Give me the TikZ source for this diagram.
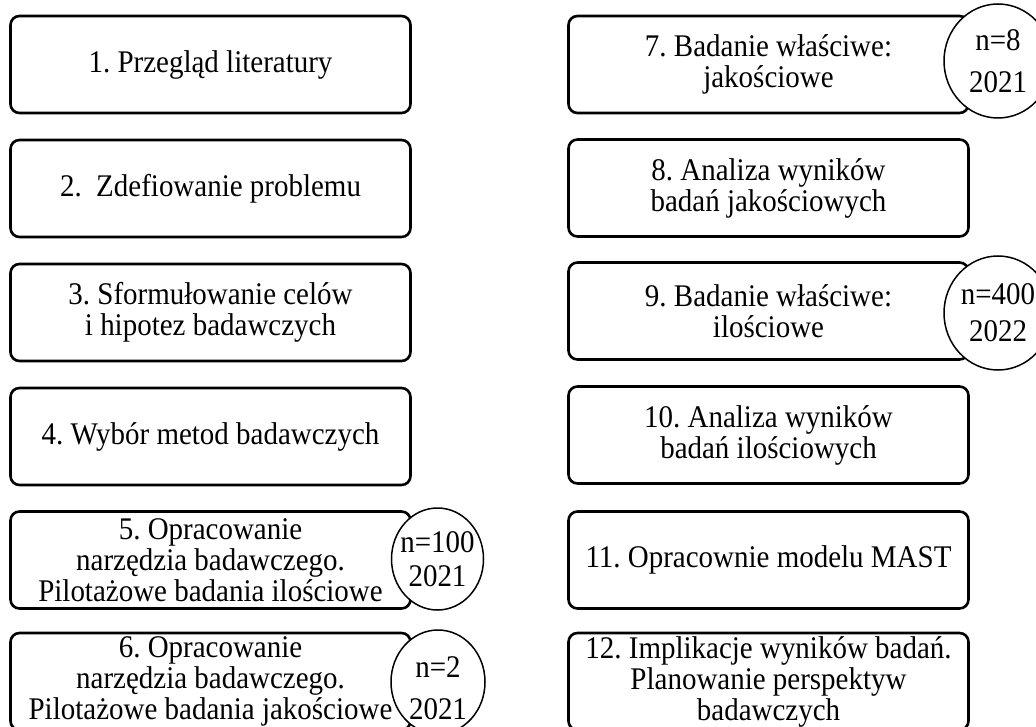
\documentclass[tikz,border=0pt]{standalone}
\usepackage{fontspec}
\setmainfont{Liberation Serif}[FakeStretch=0.92]
\usetikzlibrary{shapes.geometric}
\begin{document}
\frenchspacing
\begin{tikzpicture}[x=1pt,y=-1pt,
  stage/.style={draw, line width=2.6pt, rounded corners=9pt, minimum width=400pt,
    minimum height=97pt, align=center, inner sep=0pt, fill=white,
    font=\fontsize{31.5}{31}\selectfont},
  badge/.style={draw, line width=1.5pt, fill=white, ellipse, inner sep=0pt},
  badgetext/.style={align=center, inner sep=0pt, font=\fontsize{31.5}{#1}\selectfont},
  badgetext/.default=36]
\useasboundingbox (0,0) rectangle (1036,727);
\fill[white] (0,0) rectangle (1036,727);
% left column
\node[stage] (s1) at (210.5,64.5) {1. Przegląd literatury};
\node[stage] (s2) at (210.5,188.5) {2.\ \ Zdefiowanie problemu};
\node[stage] (s3) at (210.5,312.5) {3. Sformułowanie celów\\i hipotez badawczych};
\node[stage] (s4) at (210.5,436.5) {4. Wybór metod badawczych};
\node[stage] (s5) at (210.5,560) {5. Opracowanie\\narzędzia badawczego.\\Pilotażowe badania ilościowe};
\node[stage] (s6) at (210.5,681.5) {6. Opracowanie\\narzędzia badawczego.\\Pilotażowe badania jakościowe};
% right column
\node[stage] (s7) at (768.5,64.5) {7. Badanie właściwe:\\jakościowe};
\node[stage] (s8) at (768.5,188) {8. Analiza wyników\\badań jakościowych};
\node[stage] (s9) at (768.5,311) {9. Badanie właściwe:\\ilościowe};
\node[stage] (s10) at (768.5,435) {10. Analiza wyników\\badań ilościowych};
\node[stage] (s11) at (768.5,560) {11. Opracownie modelu MAST};
\node[stage] (s12) at (768.5,681.5) {12. Implikacje wyników badań.\\Planowanie perspektyw\\badawczych};
% badges
\node[badge, minimum width=92pt, minimum height=102pt] (c5) at (437.5,559) {};
\node[badgetext=34] (t5) at (c5) {n=100\\2021};
\node[badge, minimum width=94pt, minimum height=104pt] (c6) at (438,682) {};
\node[badgetext=42] (t6) at ([yshift=-6pt]c6.center) {n=2\\2021};
\node[badge, minimum width=108pt, minimum height=114pt] (c7) at (998,61) {};
\node[badgetext=42] (t7) at (c7) {n=8\\2021};
\node[badge, minimum width=108pt, minimum height=114pt] (c9) at (998,313) {};
\node[badgetext=37] (t9) at (c9) {n=400\\2022};
\end{tikzpicture}
\end{document}
